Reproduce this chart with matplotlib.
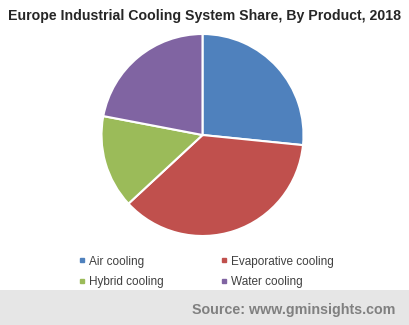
import numpy as np
import matplotlib.pyplot as plt
from matplotlib.patches import Rectangle
from matplotlib.lines import Line2D

plt.rcParams['font.family'] = ['Liberation Sans', 'DejaVu Sans']

labels = ['Air cooling', 'Evaporative cooling', 'Hybrid cooling', 'Water cooling']
shares = [26.6, 36.5, 14.9, 22.0]
colors = ['#4F81BD', '#C0504D', '#9BBB59', '#8064A2']

W, H = 410, 325
fig = plt.figure(figsize=(W / 100, H / 100), dpi=100)

# gray source band at bottom
fig.patches.append(Rectangle((0, 0), 1, 35 / H, transform=fig.transFigure,
                             facecolor='#e6e6e6', edgecolor='none', zorder=0))
fig.text(395 / W, 1 - 310 / H, 'Source: www.gminsights.com', ha='right', va='center',
         fontsize=10.3, fontweight='bold', color='#808080')

fig.text(205 / W, 1 - 16 / H, 'Europe Industrial Cooling System Share, By Product, 2018',
         ha='center', va='center', fontsize=10.2, fontweight='bold', color='#262626')

# pie: center (202.5,135), radius 100 px
r = 101
ax = fig.add_axes([(202.5 - r) / W, 1 - (135 + r) / H, 2 * r / W, 2 * r / H])
ax.pie(shares, colors=colors, startangle=90, counterclock=False,
       wedgeprops=dict(edgecolor='white', linewidth=1.5))
ax.set_aspect('equal')
ax.set_xlim(-1, 1)
ax.set_ylim(-1, 1)
ax.axis('off')

# legend filled row by row: Air, Evaporative / Hybrid, Water
order = [0, 2, 1, 3]
handles = [Line2D([], [], marker='s', color=colors[i], linestyle='none', markersize=3.5)
           for i in order]
fig.legend(handles, [labels[i] for i in order], ncol=2, loc='center left',
           bbox_to_anchor=(68 / W, 1 - 272 / H), frameon=False, fontsize=8.5,
           handlelength=0.6, handletextpad=0.3, columnspacing=4.8, labelspacing=0.75,
           labelcolor='#404040')

fig.savefig('out.png', dpi=100)
